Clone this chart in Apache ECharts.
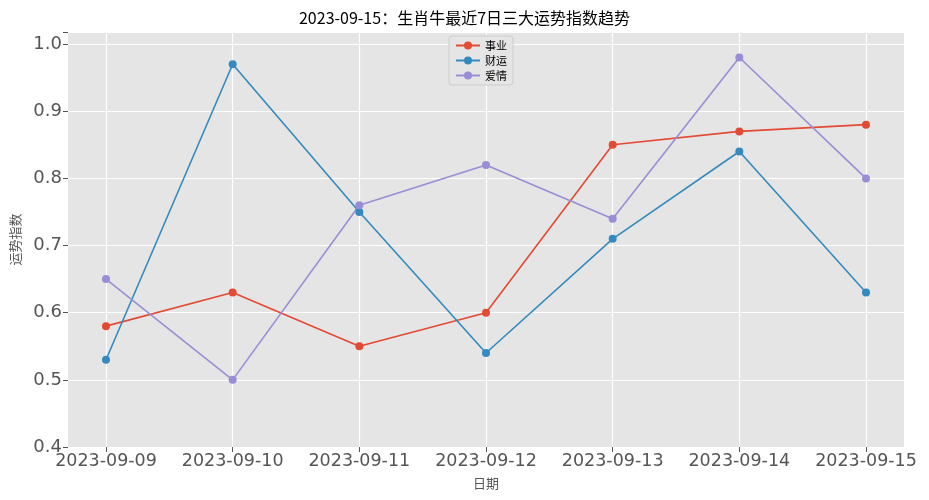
<!DOCTYPE html>
<html><head><meta charset="utf-8">
<script src="https://cdn.jsdelivr.net/npm/echarts@6/dist/echarts.min.js"></script>
<style>html,body{margin:0;padding:0;background:#fff}#c{width:929px;height:500px}</style>
</head><body><div id="c"></div>
<script>
const dates = ['2023-09-09','2023-09-10','2023-09-11','2023-09-12','2023-09-13','2023-09-14','2023-09-15'];
const career = [0.58,0.63,0.55,0.60,0.85,0.87,0.88];
const wealth = [0.53,0.97,0.75,0.54,0.71,0.84,0.63];
const love = [0.65,0.50,0.76,0.82,0.74,0.98,0.80];
const yMin = 0.4, yMax = 1.018;
const font = "'Noto Sans CJK SC', 'DejaVu Sans', sans-serif";
const chart = echarts.init(document.getElementById('c'));
function mk(name, data, color){
  return {name, type:'line', xAxisIndex:1, yAxisIndex:1, data, color,
    symbol:'circle', symbolSize:8, lineStyle:{width:1.6, color}, itemStyle:{color}};
}
chart.setOption({
  animation:false,
  textStyle:{fontFamily:font},
  title:{text:'2023-09-15：生肖牛最近7日三大运势指数趋势', left:'center', top:5,
    textStyle:{fontSize:16, fontWeight:'normal', color:'#000', fontFamily:font}},
  legend:{data:['事业','财运','爱情'], orient:'vertical', left:449, top:36,
    backgroundColor:'#e5e5e5', borderColor:'#ccc', borderWidth:1, borderRadius:3,
    padding:[4,6], itemGap:4, itemWidth:24, itemHeight:10, textStyle:{fontSize:11, color:'#000'}},
  grid:[
    {left:68, right:25, top:32, bottom:53, show:true, backgroundColor:'#e5e5e5', borderWidth:0},
    {left:106, right:63, top:32, bottom:53}
  ],
  xAxis:[
    {type:'value', gridIndex:0, min:0, max:1, show:false},
    {type:'category', gridIndex:1, data:dates, boundaryGap:false,
      name:'日期', nameLocation:'middle', nameGap:30, nameTextStyle:{fontSize:13, color:'#555'},
      axisLine:{show:false}, axisTick:{show:true, length:5, interval:0, lineStyle:{color:'#555'}},
      axisLabel:{fontSize:17.5, color:'#555', margin:5, interval:0, hideOverlap:false, fontFamily:'DejaVu Sans'},
      splitLine:{show:true, interval:0, lineStyle:{color:'#fff', width:1.2}}}
  ],
  yAxis:[
    {type:'value', gridIndex:0, min:yMin, max:yMax, interval:0.1,
      name:'运势指数', nameLocation:'middle', nameGap:46, nameTextStyle:{fontSize:13, color:'#555'},
      axisLine:{show:false}, axisTick:{show:true, length:5, lineStyle:{color:'#555'}},
      axisLabel:{fontSize:18, color:'#555', margin:6, fontFamily:'DejaVu Sans',
        formatter:v=>Math.abs(v*10-Math.round(v*10))<1e-6?v.toFixed(1):''},
      splitLine:{show:true, lineStyle:{color:'#fff', width:1.2}}},
    {type:'value', gridIndex:1, min:yMin, max:yMax, show:false, splitLine:{show:false}}
  ],
  series:[mk('事业',career,'#E24A33'), mk('财运',wealth,'#348ABD'), mk('爱情',love,'#988ED5')]
});
</script></body></html>
